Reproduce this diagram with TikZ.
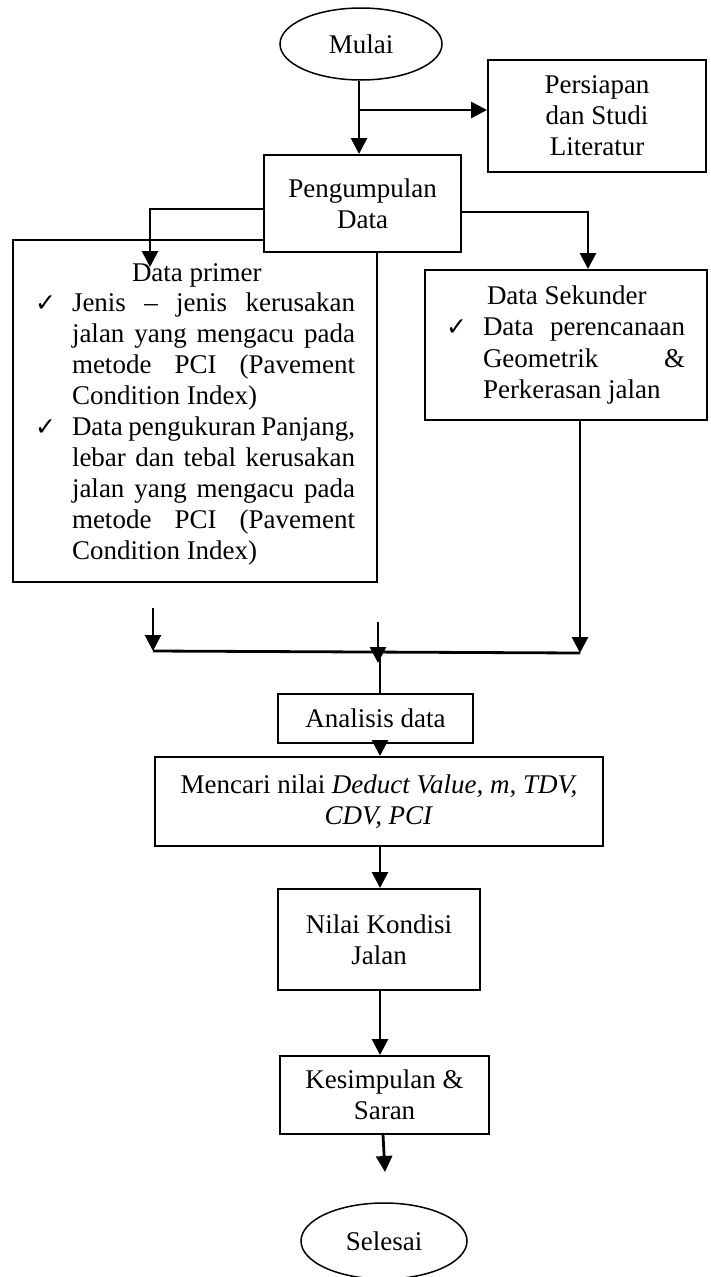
\documentclass[tikz,border=0pt]{standalone}
\usepackage{fontspec}
\setmainfont{Liberation Serif}
\newfontfamily\ckfont{DejaVu Sans}
\usetikzlibrary{shapes.geometric,arrows.meta,calc}
\newcommand\ckm{{\ckfont\fontsize{25}{25}\selectfont ✓}}
\newcommand\jl[2]{\makebox[#1][s]{#2}}
\newcommand\lastl[2]{\makebox[#1][l]{#2}}
\begin{document}
\begin{tikzpicture}[x=1pt,y=-1pt,
  txt/.style={font=\fontsize{27}{31}\selectfont},
  box/.style={draw,line width=2pt,inner sep=0pt,txt,align=center,fill=white},
  oval/.style={ellipse,draw,line width=1.5pt,inner sep=0pt,txt},
  conn/.style={line width=2.8pt},
  arr/.style={conn,-{Triangle[width=16pt,length=16pt]}}]
\useasboundingbox (0,0) rectangle (711,1277);

\node[oval,minimum width=162pt,minimum height=72pt] (mulai) at (361,44) {Mulai};
\node[box,minimum width=218pt,minimum height=112pt] (persiapan) at (597,116) {Persiapan\\dan Studi\\Literatur};

\node[box,minimum width=364pt,minimum height=342pt,align=left] (primer) at (195,411)
 {\parbox{364pt}{\fontsize{27}{30.9}\selectfont\vspace*{6pt}%
 \hspace*{119pt}Data primer\par
 \hspace*{22pt}\makebox[37pt][l]{\ckm}\jl{283pt}{Jenis – jenis kerusakan}\par
 \hspace*{59pt}\jl{283pt}{jalan yang mengacu pada}\par
 \hspace*{59pt}\jl{283pt}{metode PCI (Pavement}\par
 \hspace*{59pt}\lastl{283pt}{Condition Index)}\par
 \hspace*{22pt}\makebox[37pt][l]{\ckm}\jl{283pt}{Data pengukuran Panjang,}\par
 \hspace*{59pt}\jl{283pt}{lebar dan tebal kerusakan}\par
 \hspace*{59pt}\jl{283pt}{jalan yang mengacu pada}\par
 \hspace*{59pt}\jl{283pt}{metode PCI (Pavement}\par
 \hspace*{59pt}\lastl{283pt}{Condition Index)}}};

\node[box,minimum width=197pt,minimum height=97pt] (peng) at (362.5,203.5) {Pengumpulan\\Data};

\node[box,minimum width=282pt,minimum height=150pt,align=left] (sek) at (566,345)
 {\parbox{282pt}{\fontsize{27}{31.5}\selectfont
 \hspace*{62pt}Data Sekunder\par
 \hspace*{21pt}\makebox[37pt][l]{\ckm}\jl{202pt}{Data perencanaan}\par
 \hspace*{58pt}\jl{202pt}{Geometrik \&}\par
 \hspace*{58pt}\lastl{202pt}{Perkerasan jalan}}};

\node[box,minimum width=195pt,minimum height=49pt] (anal) at (375.5,718.5) {Analisis data};
\node[box,minimum width=448pt,minimum height=89pt] (mencari) at (379,801.5)
 {Mencari nilai \textit{Deduct Value, m, TDV,}\\\textit{CDV, PCI}};
\node[box,minimum width=202pt,minimum height=101pt] (nilai) at (379,939.5) {Nilai Kondisi\\Jalan};
\node[box,minimum width=209pt,minimum height=78pt] (kes) at (384.5,1095) {Kesimpulan \&\\Saran};
\node[oval,minimum width=166pt,minimum height=76pt] (selesai) at (384,1241) {Selesai};

% connectors
\coordinate (b1) at (359,110);
\draw[arr] (mulai.south -| b1) -- (b1 |- peng.north);
\draw[arr] (b1) -- (b1 -| persiapan.west);

\coordinate (pl1) at (150,209);
\coordinate (pl) at (150,267);
\draw[arr] (peng.west |- pl1) -- (pl1) -- (pl);

\coordinate (pr1) at (588,212);
\draw[arr] (peng.east |- pr1) -- (pr1) -- (pr1 |- sek.north);

\coordinate (j1) at (153,651);
\coordinate (j2) at (380,652);
\coordinate (j3) at (580,653);
\coordinate (lt) at (153,608);
\coordinate (mt) at (378,622);
\coordinate (mtip) at (378,663);
\draw[arr] (lt) -- (j1);
\draw[arr] (mt) -- (mtip);
\draw[conn] (j1) -- (j3);
\draw[conn] (j2) -- (j2 |- anal.north);
\draw[arr] (sek.south -| j3) -- (j3);

\draw[arr] (j2 |- anal.south) -- (j2 |- mencari.north);
\draw[arr] (j2 |- mencari.south) -- (j2 |- nilai.north);
\draw[arr] (j2 |- nilai.south) -- (j2 |- kes.north);
\coordinate (kt) at (385,1172);
\draw[arr] (kes.south -| 383,0) -- (kt);
\end{tikzpicture}
\end{document}
